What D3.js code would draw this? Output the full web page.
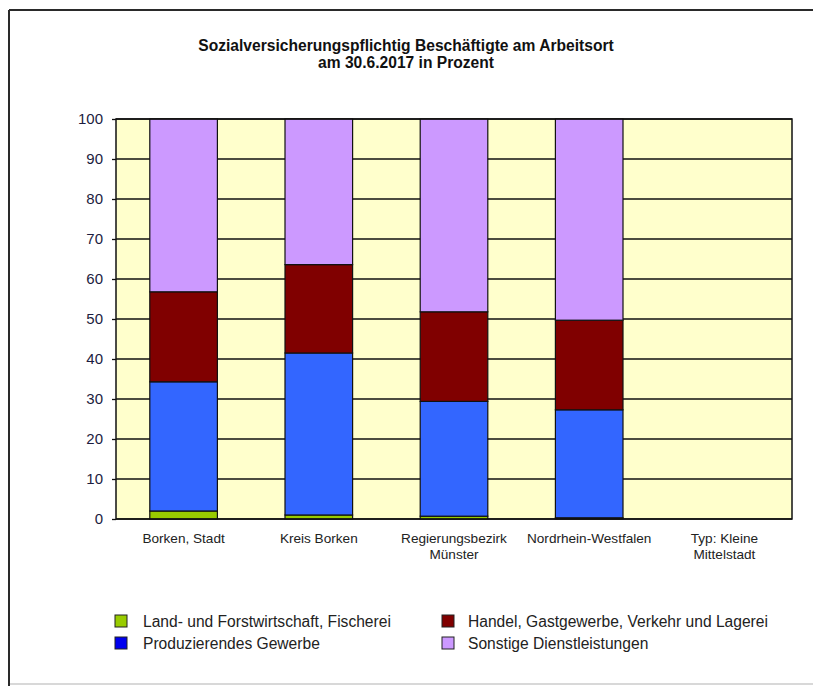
<!DOCTYPE html>
<html>
<head>
<meta charset="utf-8">
<script src="https://cdn.jsdelivr.net/npm/d3@7"></script>
<style>
  html, body { margin: 0; padding: 0; background: #ffffff; }
  svg { display: block; }
  text { font-family: "Liberation Sans", Arial, sans-serif; }
</style>
</head>
<body>
<svg id="chart" width="813" height="686"></svg>
<script>
// Regions (second line of each label after "|")
const categories = ["Borken, Stadt", "Kreis Borken", "Regierungsbezirk|Münster", "Nordrhein-Westfalen", "Typ: Kleine|Mittelstadt"];

// Shares in percent per economic sector
const landwirtschaft = [2.0, 1.0, 0.7, 0.3, null];
const produzierend   = [32.3, 40.5, 28.7, 27.0, null];
const handel         = [22.5, 22.1, 22.4, 22.4, null];
const sonstige       = [43.2, 36.4, 48.2, 50.3, null];

const seriesNames = [
  "Land- und Forstwirtschaft, Fischerei",
  "Produzierendes Gewerbe",
  "Handel, Gastgewerbe, Verkehr und Lagerei",
  "Sonstige Dienstleistungen"
];
const yTicks = [0, 10, 20, 30, 40, 50, 60, 70, 80, 90, 100];

const barColors    = ["#99cc00", "#3366ff", "#800000", "#cc99ff"];
const legendColors = ["#99cc00", "#0000ee", "#800000", "#cc99ff"];

const svg = d3.select("#chart");

// outer frame: dark left/top edges, faint bottom edge
svg.append("line").attr("x1", 9).attr("x2", 9).attr("y1", 10).attr("y2", 686)
  .attr("stroke", "#2a2a2a").attr("stroke-width", 2);
svg.append("line").attr("x1", 9).attr("x2", 813).attr("y1", 10).attr("y2", 10)
  .attr("stroke", "#2a2a2a").attr("stroke-width", 2);
svg.append("line").attr("x1", 10).attr("x2", 813).attr("y1", 684).attr("y2", 684)
  .attr("stroke", "#d8d8d8").attr("stroke-width", 2);

// title
const title = svg.append("text")
  .attr("x", 406).attr("y", 51)
  .attr("text-anchor", "middle")
  .attr("font-size", 15.6).attr("font-weight", "bold").attr("fill", "#111");
title.append("tspan").attr("x", 406).attr("dy", 0).text("Sozialversicherungspflichtig Beschäftigte am Arbeitsort");
title.append("tspan").attr("x", 406).attr("dy", 17).text("am 30.6.2017 in Prozent");

const plot = { left: 116, right: 792, top: 119, bottom: 519 };

const x = d3.scaleBand()
  .domain(categories)
  .range([plot.left, plot.right])
  .paddingInner(0.5)
  .paddingOuter(0.25);

const y = d3.scaleLinear().domain([0, 100]).range([plot.bottom, plot.top]);

// plot background
svg.append("rect")
  .attr("x", plot.left).attr("y", plot.top)
  .attr("width", plot.right - plot.left).attr("height", plot.bottom - plot.top)
  .attr("fill", "#ffffcc");

// gridlines
svg.append("g").selectAll("line")
  .data(yTicks)
  .join("line")
  .attr("x1", plot.left).attr("x2", plot.right)
  .attr("y1", d => y(d)).attr("y2", d => y(d))
  .attr("stroke", "#111").attr("stroke-width", 1.3);

// y axis
const yAxis = svg.append("g")
  .attr("transform", `translate(${plot.left},0)`)
  .call(d3.axisLeft(y).tickValues(yTicks).tickSize(4).tickPadding(9));
yAxis.select(".domain").remove();
yAxis.selectAll(".tick line").attr("stroke", "#111").attr("stroke-width", 1.3);
yAxis.selectAll(".tick text")
  .attr("font-size", 15).attr("fill", "#1c1c40")
  .attr("font-family", "'Liberation Sans', Arial, sans-serif");

// stacked bars
const rows = categories.map((c, i) => ({
  cat: c,
  v0: landwirtschaft[i], v1: produzierend[i], v2: handel[i], v3: sonstige[i]
})).filter(r => r.v0 !== null);

const stack = d3.stack().keys(["v0", "v1", "v2", "v3"]);
const stacked = stack(rows);

svg.append("g").selectAll("g")
  .data(stacked)
  .join("g")
  .attr("fill", (d, i) => barColors[i])
  .selectAll("rect")
  .data(d => d)
  .join("rect")
  .attr("x", d => x(d.data.cat))
  .attr("width", x.bandwidth())
  .attr("y", d => y(d[1]))
  .attr("height", d => y(d[0]) - y(d[1]))
  .attr("stroke", "#111").attr("stroke-width", 1.2);

// plot border
svg.append("rect")
  .attr("x", plot.left).attr("y", plot.top)
  .attr("width", plot.right - plot.left).attr("height", plot.bottom - plot.top)
  .attr("fill", "none").attr("stroke", "#111").attr("stroke-width", 1.5);

// category labels
const xl = svg.append("g").selectAll("text")
  .data(categories)
  .join("text")
  .attr("text-anchor", "middle")
  .attr("font-size", 13.6).attr("fill", "#222");
xl.each(function (d) {
  const cx = x(d) + x.bandwidth() / 2;
  d3.select(this).selectAll("tspan")
    .data(d.split("|"))
    .join("tspan")
    .attr("x", cx)
    .attr("y", (t, j) => 543 + j * 16)
    .text(t => t);
});

// legend
const legendPos = [
  { x: 115, y: 615 }, { x: 115, y: 637 },
  { x: 442, y: 615 }, { x: 442, y: 637 }
];
const legendTextOffset = [28, 28, 26, 26];
const legend = svg.append("g").selectAll("g")
  .data(seriesNames)
  .join("g")
  .attr("transform", (d, i) => `translate(${legendPos[i].x},${legendPos[i].y})`);
legend.append("rect")
  .attr("width", 12).attr("height", 12)
  .attr("fill", (d, i) => legendColors[i])
  .attr("stroke", "#222").attr("stroke-width", 1);
legend.append("text")
  .attr("x", (d, i) => legendTextOffset[i]).attr("y", 12)
  .attr("font-size", 15.6).attr("fill", "#222")
  .text(d => d);
</script>
</body>
</html>
